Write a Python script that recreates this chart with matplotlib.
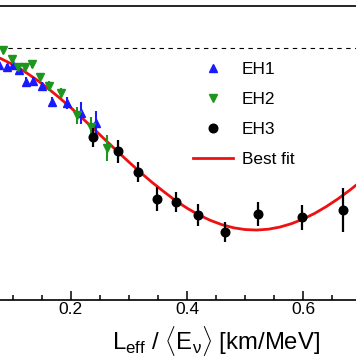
import matplotlib.pyplot as plt
from matplotlib.ticker import MultipleLocator, FixedLocator

plt.rcParams['font.family'] = ['Liberation Sans', 'DejaVu Sans']
plt.rcParams['mathtext.fontset'] = 'custom'
plt.rcParams['mathtext.rm'] = 'Liberation Sans'
plt.rcParams['mathtext.it'] = 'Liberation Sans:italic'

# EH1 (near hall)
eh1_x = [0.077, 0.0905, 0.1008, 0.1111, 0.1231, 0.1352, 0.1506, 0.1678, 0.1936, 0.2177, 0.2435]
eh1_y = [0.992, 0.991, 0.992, 0.9896, 0.9839, 0.9844, 0.982, 0.9745, 0.974, 0.9693, 0.9645]
eh1_err = [0.0015, 0.0015, 0.0015, 0.0015, 0.0025, 0.002, 0.002, 0.0024, 0.003, 0.005, 0.006]

# EH2
eh2_x = [0.083, 0.0985, 0.1094, 0.1214, 0.1334, 0.1472, 0.1627, 0.1833, 0.2108, 0.2349, 0.2624]
eh2_y = [0.999, 0.9948, 0.991, 0.991, 0.9924, 0.9863, 0.982, 0.9787, 0.9683, 0.9626, 0.9527]
eh2_err = [0.002, 0.002, 0.002, 0.002, 0.002, 0.002, 0.0025, 0.0025, 0.004, 0.005, 0.006]

# EH3 (far hall)
eh3_x = [0.2384, 0.2822, 0.3157, 0.3484, 0.3811, 0.4189, 0.4653, 0.522, 0.5977, 0.6682]
eh3_y = [0.9579, 0.9513, 0.9414, 0.9286, 0.9274, 0.921, 0.913, 0.9215, 0.920, 0.9234]
eh3_err = [0.0045, 0.0054, 0.0047, 0.0057, 0.0047, 0.0052, 0.0047, 0.0057, 0.0059, 0.0104]

# best fit curve
fit_x = [0.06, 0.08, 0.10, 0.12, 0.14, 0.16, 0.18, 0.20, 0.22, 0.24, 0.26, 0.28,
         0.30, 0.32, 0.34, 0.36, 0.38, 0.40, 0.42, 0.44, 0.46, 0.48, 0.50, 0.52,
         0.54, 0.56, 0.58, 0.60, 0.62, 0.64, 0.66, 0.68, 0.70, 0.72]
fit_y = [0.99716, 0.99500, 0.99227, 0.98903, 0.98530, 0.98116, 0.97666, 0.97188,
         0.96687, 0.96172, 0.95649, 0.95129, 0.94618, 0.94124, 0.93655, 0.93219,
         0.92801, 0.92439, 0.92124, 0.91863, 0.91657, 0.91511, 0.91427, 0.91404,
         0.91444, 0.91546, 0.91708, 0.91926, 0.92198, 0.92520, 0.92885, 0.93289,
         0.93725, 0.94187]

xticks = [0.2, 0.4, 0.6]

fig = plt.figure(figsize=(3.56, 3.64), dpi=100)
ax = fig.add_axes([-0.12809, 0.175824, 1.30674, 0.80852])

ax.axhline(1.0, color='black', lw=0.8, ls=(0, (4, 4)))
fit_line, = ax.plot(fit_x, fit_y, color='#ee1111', lw=2, zorder=2)

ax.errorbar(eh1_x, eh1_y, yerr=eh1_err, fmt='none', ecolor='#1a1aff', elinewidth=1.5, zorder=3)
h1, = ax.plot(eh1_x, eh1_y, '^', color='#1a1aff', ms=6.4, ls='none', zorder=3)
ax.errorbar(eh2_x, eh2_y, yerr=eh2_err, fmt='none', ecolor='#1e961e', elinewidth=1.5, zorder=4)
h2, = ax.plot(eh2_x, eh2_y, 'v', color='#1e961e', ms=6.4, ls='none', zorder=4)
ax.errorbar(eh3_x, eh3_y, yerr=eh3_err, fmt='none', ecolor='black', elinewidth=1.6, zorder=5)
h3, = ax.plot(eh3_x, eh3_y, 'o', color='black', ms=6.2, ls='none', zorder=5)

ax.set_xlim(0, 0.8)
ax.set_ylim(0.881, 1.02)
ax.xaxis.set_major_locator(FixedLocator(xticks))
ax.xaxis.set_minor_locator(MultipleLocator(0.05))
ax.tick_params(axis='x', which='both', direction='in', bottom=True, top=False,
               width=1.1, labelsize=12.5, pad=1.5)
ax.tick_params(axis='x', which='major', length=6.5)
ax.tick_params(axis='x', which='minor', length=3.6)
ax.tick_params(axis='y', which='both', left=False, labelleft=False)
for s in ax.spines.values():
    s.set_linewidth(1.2)

fig.text(216.5 / 356, 1 - 350 / 364,
         r'L$_\mathregular{eff}$ / $\langle$E$_\mathregular{\nu}$$\rangle$ [km/MeV]',
         ha='center', va='baseline', fontsize=17.2)

ax.legend([h1, h2, h3, fit_line], ['EH1', 'EH2', 'EH3', 'Best fit'],
          loc='upper left', bbox_to_anchor=(192.7 / 356, 1 - 62 / 364),
          bbox_transform=fig.transFigure, frameon=False, fontsize=12.4,
          handlelength=2.33, handletextpad=0.52, labelspacing=0.87,
          borderpad=0, borderaxespad=0)

fig.savefig('out.png', dpi=100)
